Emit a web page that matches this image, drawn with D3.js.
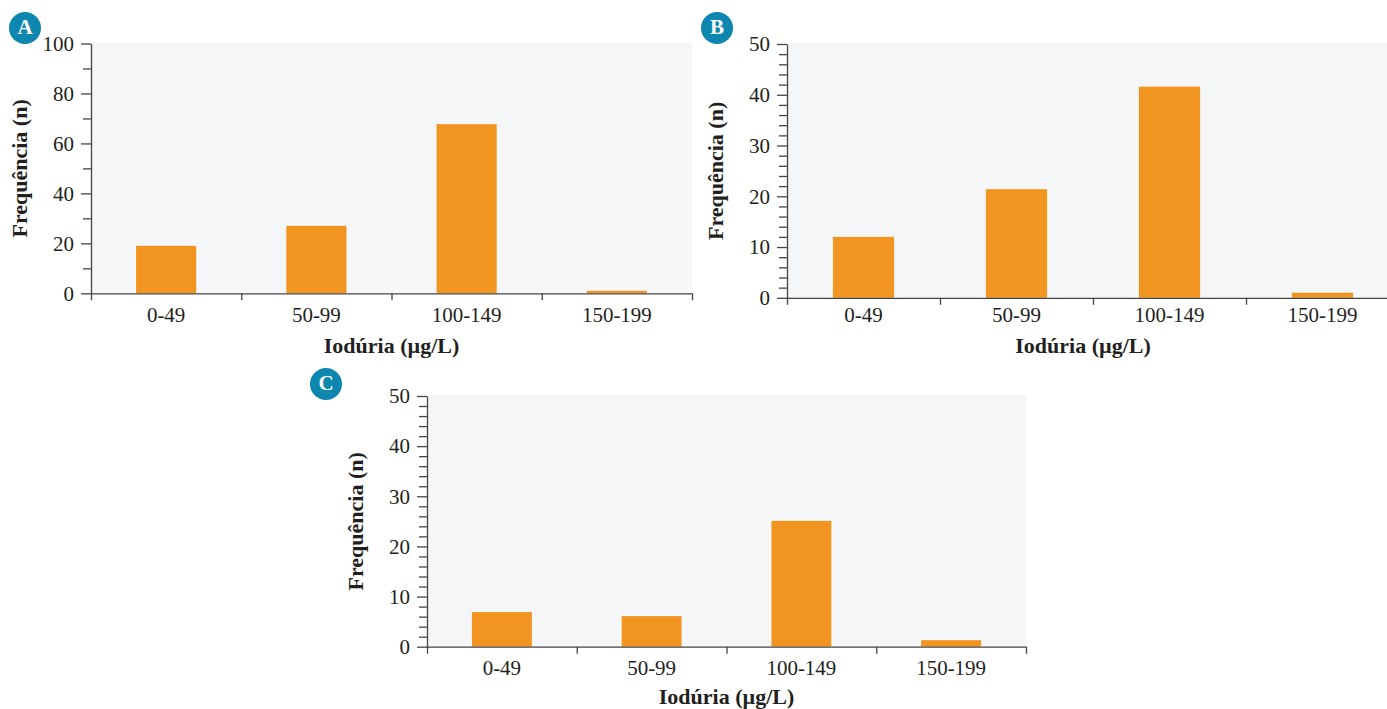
<!DOCTYPE html>
<html>
<head>
<meta charset="utf-8">
<script src="https://cdn.jsdelivr.net/npm/d3@7"></script>
<style>
  body { margin: 0; background: #fff; }
  svg text { font-family: "Liberation Serif", "Times New Roman", serif; fill: #231f20; }
</style>
</head>
<body>
<div id="chart"></div>
<script>
// Data
const categories = ["0-49", "50-99", "100-149", "150-199"];
const valuesA = [19, 27, 67.7, 1];
const valuesB = [12, 21.4, 41.6, 1];
const valuesC = [6.9, 6.1, 25.1, 1.3];
const ticksA = [0, 20, 40, 60, 80, 100];
const ticksBC = [0, 10, 20, 30, 40, 50];
const xTitle = "Iodúria (µg/L)";
const yTitle = "Frequência (n)";

const width = 1387;
const height = 709;

const svg = d3.select("#chart").append("svg")
    .attr("width", width)
    .attr("height", height);

// Panel layouts
const panels = [
    { letter: "A", values: valuesA, ticks: ticksA, minor: 10, left: 91, right: 692, top: 43.5, bottom: 293.3,
      badge: [25, 28], tickDy: 22, titleDy: 55, titleX: null, bgRight: 692 },
    { letter: "B", values: valuesB, ticks: ticksBC, minor: 2, left: 787, right: 1399, top: 44, bottom: 297.8,
      badge: [717, 28], tickDy: 17, titleDy: 50, titleX: 1083, bgRight: 1387 },
    { letter: "C", values: valuesC, ticks: ticksBC, minor: 2, left: 427, right: 1026, top: 396, bottom: 646.7,
      badge: [326, 384], tickDy: 21, titleDy: 52, titleX: null, bgRight: 1026 }
];

panels.forEach(p => {
    const g = svg.append("g");
    const ymax = p.ticks[p.ticks.length - 1];

    const x = d3.scaleBand()
        .domain(categories)
        .range([p.left, p.right])
        .padding(0);

    const y = d3.scaleLinear()
        .domain([0, ymax])
        .range([p.bottom, p.top]);

    // Plot background
    g.append("rect")
        .attr("x", p.left + 1)
        .attr("y", p.top - 1)
        .attr("width", p.bgRight - p.left - 1)
        .attr("height", p.bottom - p.top + 1)
        .attr("fill", "#f5f6f8");

    // Bars
    g.selectAll("rect.bar")
        .data(p.values)
        .enter()
        .append("rect")
        .attr("class", "bar")
        .attr("x", (d, i) => x(categories[i]) + x.bandwidth() * 0.3)
        .attr("width", x.bandwidth() * 0.4)
        .attr("y", d => y(d))
        .attr("height", d => p.bottom - y(d))
        .attr("fill", "#f29420");

    // Minor y ticks
    const minorTicks = d3.range(0, ymax + 0.001, p.minor).filter(v => !p.ticks.includes(v));
    g.append("g")
        .attr("transform", `translate(${p.left},0)`)
        .call(d3.axisLeft(y).tickValues(minorTicks).tickSize(8).tickFormat(""))
        .call(a => a.select(".domain").remove())
        .call(a => a.selectAll("line").attr("stroke", "#444").attr("stroke-width", 1.3));

    // Major y ticks
    g.append("g")
        .attr("transform", `translate(${p.left},0)`)
        .call(d3.axisLeft(y).tickValues(p.ticks).tickSize(10).tickSizeOuter(0).tickPadding(7))
        .call(a => a.select(".domain").attr("stroke", "#444").attr("stroke-width", 1.3))
        .call(a => a.selectAll("line").attr("stroke", "#444").attr("stroke-width", 1.3))
        .call(a => a.selectAll("text").attr("font-size", 21));

    // X axis: category labels
    g.append("g")
        .attr("transform", `translate(0,${p.bottom})`)
        .call(d3.axisBottom(x).tickSize(0).tickSizeOuter(0).tickPadding(p.tickDy - 8))
        .call(a => a.select(".domain").attr("stroke", "#444").attr("stroke-width", 1.3))
        .call(a => a.selectAll("text").attr("font-size", 21));

    // X axis: boundary ticks between categories
    const edges = d3.scaleLinear().domain([0, categories.length]).range([p.left, p.right]);
    g.append("g")
        .attr("transform", `translate(0,${p.bottom})`)
        .call(d3.axisBottom(edges).tickValues(d3.range(0, categories.length + 1)).tickSize(7).tickFormat(""))
        .call(a => a.select(".domain").remove())
        .call(a => a.selectAll("line").attr("stroke", "#444").attr("stroke-width", 1.3));

    // Axis titles
    g.append("text")
        .attr("x", p.titleX !== null ? p.titleX : (p.left + p.right) / 2)
        .attr("y", p.bottom + p.titleDy)
        .attr("text-anchor", "middle")
        .attr("dominant-baseline", "middle")
        .attr("font-size", 22)
        .attr("font-weight", "bold")
        .text(xTitle);

    g.append("text")
        .attr("transform", `translate(${p.left - 69},${(p.top + p.bottom) / 2}) rotate(-90)`)
        .attr("text-anchor", "middle")
        .attr("dominant-baseline", "middle")
        .attr("font-size", 22)
        .attr("font-weight", "bold")
        .text(yTitle);

    // Panel badge
    g.append("circle")
        .attr("cx", p.badge[0])
        .attr("cy", p.badge[1])
        .attr("r", 16)
        .attr("fill", "#0d86b0");

    g.append("text")
        .attr("x", p.badge[0])
        .attr("y", p.badge[1] + 1)
        .attr("text-anchor", "middle")
        .attr("dominant-baseline", "middle")
        .attr("font-size", 21)
        .attr("font-weight", "bold")
        .style("fill", "#fff")
        .text(p.letter);
});
</script>
</body>
</html>
